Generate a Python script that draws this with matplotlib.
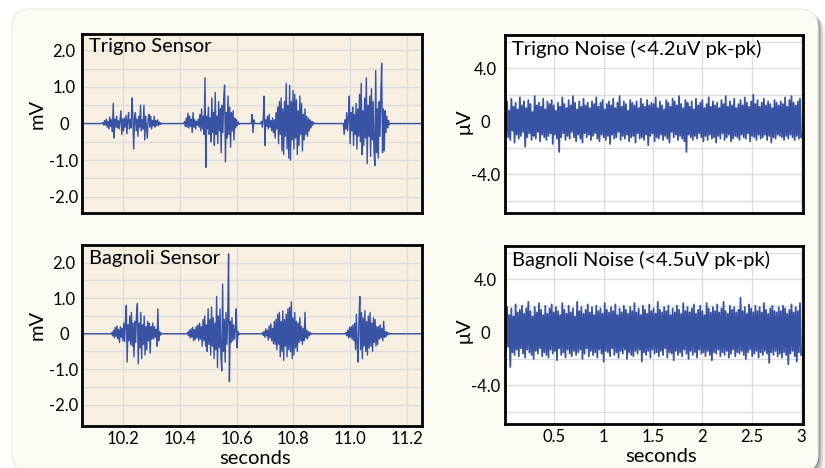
import numpy as np
import matplotlib.pyplot as plt
from matplotlib.patches import FancyBboxPatch
from matplotlib.transforms import IdentityTransform

plt.rcParams['font.family'] = ['Lato', 'DejaVu Sans']

# ---- EMG bursts (mV), sampled every 3 ms, flat baseline between bursts ----
dt = 0.003
t_window = (10.056, 11.253)

trigno_starts = [10.130, 10.417, 10.655, 10.688, 10.979]
trigno_bursts = [
    [0.03,-0.05,0.08,-0.04,0.12,-0.1,0.06,-0.15,0.18,-0.08,0.1,-0.22,0.55,-0.4,0.12,-0.1,0.2,-0.12,0.08,-0.15,
     0.1,0.35,-0.3,0.12,-0.2,0.15,-0.1,0.22,-0.28,0.1,0.3,-0.15,0.1,-0.12,0.7,0.2,-0.7,0.15,0.3,-0.2,
     0.12,-0.35,0.2,-0.1,0.5,-0.2,0.1,-0.15,0.5,-0.45,0.2,-0.1,-0.4,0.15,0.25,-0.1,0.2,-0.15,0.08,-0.06,
     0.2,-0.1,0.08,-0.05,0.1,-0.06,0.04,-0.03,0.02,-0.01],
    [0.05,-0.08,0.15,-0.1,0.28,-0.12,0.2,-0.08,0.12,-0.25,0.3,-0.1,0.1,-0.15,0.06,-0.05,0.12,-0.1,0.25,-0.2,
     0.4,-0.15,0.2,-0.3,1.25,-1.2,0.2,-0.15,0.45,-0.3,0.15,-0.5,0.7,-0.25,0.3,-0.6,0.85,-0.3,0.2,-0.55,
     0.6,-0.2,0.4,-0.8,0.5,-0.25,0.7,1.05,-1.05,0.3,-0.4,0.75,-0.3,0.45,-0.65,0.3,-0.2,0.35,-0.45,0.15,
     -0.12,0.1,-0.06,0.04,-0.02],
    [0.25,-0.25,0.1],
    [0.06,-0.1,0.12,0.75,-0.6,0.1,-0.08,0.2,-0.15,0.25,-0.1,0.08,-0.2,0.15,-0.25,0.1,-0.4,0.3,-0.15,0.45,
     -0.55,0.6,-0.3,0.7,-0.75,0.4,-0.85,0.6,-0.35,1.1,-0.7,0.5,-0.95,1.05,-1.0,0.6,-0.45,0.9,-0.7,0.8,
     -0.4,0.65,-0.85,0.35,-0.6,0.75,-0.3,0.55,-0.75,0.25,-0.45,0.4,-0.3,0.2,-0.35,0.15,-0.2,0.1,-0.12,0.06,
     -0.05,0.03],
    [-0.3,0.1,-0.15,0.3,-0.2,0.15,0.75,-0.55,0.3,-0.2,0.45,-0.6,0.25,-0.3,0.55,-0.7,0.4,-0.35,0.8,-0.5,
     1.1,-0.85,0.35,-0.6,0.7,-0.4,1.25,-1.1,0.5,-0.35,0.75,-0.9,0.95,-0.45,0.6,-0.7,-1.15,1.45,-0.8,0.4,
     -0.95,0.6,-0.35,0.8,1.65,-0.8,0.4,-0.75,0.35,-0.25,0.2,-0.12,0.08,-0.03],
]

bagnoli_starts = [10.161, 10.428, 10.691, 10.986]
bagnoli_bursts = [
    [0.03,-0.06,0.1,-0.12,0.18,-0.08,0.22,-0.15,0.12,-0.25,0.2,-0.1,0.15,-0.2,0.3,-0.22,0.35,0.8,-0.8,0.25,
     -0.2,0.5,-0.3,0.6,-0.35,0.3,-0.65,0.35,-0.25,0.55,0.85,-0.85,0.3,-0.4,0.6,-0.7,0.25,-0.3,0.5,-0.6,
     0.2,-0.45,0.35,-0.2,0.3,-0.55,0.2,-0.15,0.3,-0.15,0.2,-0.1,0.12,-0.35,0.7,-0.2,0.06,-0.04,0.02],
    [0.04,-0.06,0.1,-0.12,0.14,-0.1,0.18,-0.2,0.12,-0.16,0.2,-0.12,0.25,-0.2,0.3,-0.15,0.2,-0.35,0.4,-0.2,
     0.5,-0.35,0.25,-0.5,0.7,-0.3,0.4,-0.6,0.75,-0.35,0.45,-0.7,0.3,-0.45,1.05,-0.95,0.5,-0.4,0.7,-0.65,
     -1.05,1.4,-0.5,0.4,-0.8,0.6,-0.3,0.45,2.25,-1.35,0.35,-0.25,0.45,-0.2,0.25,-0.15,0.1,0.7,-0.4,0.06,-0.03],
    [0.03,-0.05,0.06,-0.1,0.14,-0.06,0.1,-0.18,0.22,-0.12,0.28,-0.2,0.15,-0.28,0.35,-0.3,0.4,-0.45,0.55,-0.3,
     0.6,-0.65,0.35,-0.5,0.65,-0.75,0.4,-0.35,0.55,-0.65,0.7,-0.45,0.75,-0.5,0.9,-0.7,0.45,-0.6,0.6,-0.4,
     0.35,-0.5,0.3,-0.25,0.45,-0.2,0.2,-0.3,0.15,-0.2,0.6,-0.12,0.1,-0.15,0.06,-0.06,0.03,-0.02,0.01],
    [0.03,-0.06,0.1,-0.12,0.18,-0.1,0.2,-0.15,0.25,-0.2,0.3,-0.45,0.55,-0.3,-0.8,0.35,1.05,-0.45,0.6,-0.7,
     0.45,-0.35,0.65,-0.5,0.35,-0.6,0.5,-0.4,0.6,-0.35,0.3,-0.5,0.45,-0.25,0.4,-0.35,0.2,-0.3,0.2,-0.15,
     0.25,-0.12,0.15,-0.2,0.35,-0.1,0.06,-0.08,0.05,-0.03,0.02,-0.01,0.01,0.0],
]

# ---- noise records (uV) over 3 s ----
trigno_noise = [
    1.3,-0.9,1.5,-1.2,0.8,-1.4,1.7,-0.7,1.1,-1.6,1.4,-1.0,0.9,-1.3,1.8,-1.1,1.2,-0.8,1.5,-1.9,
    1.0,-1.2,1.6,-0.9,1.3,-1.4,0.7,-1.1,1.9,-1.3,1.2,-0.8,1.4,-1.5,1.1,-1.0,1.7,-1.2,0.9,-1.4,
    1.5,-1.1,1.3,-0.9,1.6,-1.7,1.2,-1.0,0.8,-1.3,1.4,-2.3,1.1,-1.2,1.8,-0.9,1.3,-1.4,1.0,-1.1,
    1.6,-1.3,1.2,-0.8,1.9,-1.2,1.4,-1.5,0.9,-1.0,1.5,-1.3,1.1,-1.6,1.7,-0.9,1.2,-1.2,1.4,-1.0,
    1.0,-1.4,1.5,-1.1,1.3,-0.9,1.8,-1.3,1.1,-1.5,1.4,-1.0,1.6,-1.2,0.9,-1.4,1.3,-1.1,1.5,-1.7,
    1.2,-1.0,1.7,-1.3,1.0,-1.2,1.4,-0.8,1.9,-1.4,1.1,-1.1,1.5,-1.3,1.3,-1.0,0.8,-1.5,1.6,-1.2,
    1.4,-1.1,1.2,-1.6,1.5,-0.9,1.0,-1.3,1.7,-1.2,1.3,-1.4,1.1,-1.0,1.6,-1.8,1.2,-1.1,1.4,-0.9,
    1.3,-1.5,1.8,-1.2,1.0,-1.3,1.5,-1.0,1.2,-1.4,0.9,-1.1,1.6,-1.3,1.4,-1.6,1.1,-0.8,1.7,-1.2,
    1.5,-1.0,1.2,-1.4,1.9,-1.1,1.3,-1.3,1.0,-1.5,1.6,-2.3,1.4,-1.0,1.1,-1.2,1.5,-1.4,0.9,-1.1,
    1.7,-1.3,1.2,-0.9,1.4,-1.2,1.6,-1.5,1.0,-1.1,1.3,-1.4,1.8,-1.0,1.1,-1.3,1.5,-1.2,1.2,-1.6,
    1.4,-1.1,1.0,-1.3,1.6,-0.9,1.3,-1.4,1.9,-1.2,1.1,-1.0,1.5,-1.5,1.2,-1.3,1.7,-1.1,1.0,-1.2,
    1.3,-1.4,1.6,-1.0,1.2,-1.2,1.8,-1.3,1.4,-0.9,1.1,-1.5,1.5,-1.1,2.0,-1.2,1.3,-1.4,1.6,-1.0,
    1.1,-1.3,1.4,-1.2,1.7,-1.0,1.2,-1.4,1.5,-1.1,1.3,-1.6,1.0,-1.2,1.6,-1.3,1.4,-1.0,1.2,-1.1,
    1.5,-1.2,1.3,-1.4,1.8,-1.1,1.1,-1.3,1.6,-1.0,1.9,-1.2,1.4,-1.4,1.2,-1.1,1.5,-1.3,1.7,-1.2,
]
bagnoli_noise = [
    1.6,-1.4,1.9,-1.1,1.3,-2.6,1.8,-1.5,1.2,-1.7,2.1,-1.3,1.5,-1.8,1.7,-1.2,2.0,-1.6,1.4,-1.9,
    1.8,-1.3,2.3,-1.5,1.6,-1.7,1.2,-2.0,1.9,-1.4,1.5,-1.6,2.2,-1.2,1.7,-1.8,1.3,-1.5,2.0,-1.7,
    1.4,-1.9,1.8,-1.3,2.1,-1.6,1.5,-1.4,1.9,-2.1,1.6,-1.2,1.3,-1.7,2.2,-1.5,1.7,-1.9,1.4,-1.3,
    2.0,-1.6,1.5,-1.8,1.8,-1.4,1.2,-1.7,2.3,-1.5,1.6,-1.3,1.9,-2.0,1.4,-1.6,1.7,-1.2,2.1,-1.8,
    1.5,-1.4,1.9,-1.7,1.3,-1.5,2.0,-1.9,1.6,-1.3,1.8,-1.6,1.4,-2.2,2.2,-1.4,1.7,-1.5,1.5,-1.8,
    1.9,-1.2,1.6,-1.7,2.1,-1.5,1.3,-1.9,1.8,-1.4,1.5,-1.6,2.0,-1.3,1.7,-2.0,1.4,-1.5,1.9,-1.7,
    1.6,-1.8,2.2,-1.4,1.5,-1.6,1.8,-1.3,1.3,-2.2,2.0,-1.5,1.7,-1.7,1.4,-1.4,2.1,-1.9,1.6,-1.3,
    1.8,-1.6,1.4,-1.5,2.3,-1.8,1.7,-1.4,1.5,-1.7,1.9,-1.2,1.6,-1.9,2.0,-1.5,1.3,-1.6,1.8,-2.1,
    1.5,-1.4,2.0,-1.7,1.7,-1.5,1.4,-1.8,2.2,-1.3,1.6,-1.6,1.9,-2.0,1.5,-1.4,1.8,-1.7,2.1,-1.5,
    1.4,-1.9,1.7,-1.3,2.0,-1.6,1.6,-1.5,1.3,-1.8,2.2,-1.4,1.8,-1.7,1.5,-2.1,1.9,-1.5,1.6,-1.6,
    2.1,-1.3,1.5,-1.8,1.8,-1.5,2.3,-1.7,1.6,-1.4,1.4,-1.9,2.0,-1.6,1.7,-1.3,1.9,-1.8,1.5,-1.5,
    1.7,-1.6,2.6,-1.4,1.6,-1.7,1.9,-2.0,1.4,-1.5,2.1,-1.3,1.8,-1.8,1.5,-1.6,2.0,-1.4,1.6,-1.9,
    1.9,-1.5,1.5,-1.7,2.2,-1.4,1.7,-1.6,1.4,-2.3,1.8,-1.5,2.0,-1.7,1.6,-1.4,1.5,-1.8,1.9,-1.6,
    1.6,-1.9,2.0,-1.5,1.8,-1.7,1.4,-2.4,1.7,-1.6,2.1,-1.4,1.5,-1.8,1.9,-2.2,1.6,-1.5,2.2,-1.7,
]
noise_duration = 3.0

emg_xticks = [10.2, 10.4, 10.6, 10.8, 11.0, 11.2]
emg_yticks = [2.0, 1.0, 0, -1.0, -2.0]
emg_ylabels = ['2.0', '1.0', '0', '-1.0', '-2.0']
noise_xticks = [0.5, 1, 1.5, 2, 2.5, 3]
noise_xlabels = ['0.5', '1', '1.5', '2', '2.5', '3']
noise_yticks = [4.0, 0, -4.0]
noise_ylabels = ['4.0', '0', '-4.0']

LINE = '#3953a4'
GRID = '#dddddd'


def emg_trace(starts, bursts):
    # zero baseline before and after every burst
    ts, vs = [t_window[0]], [0.0]
    for t0, b in zip(starts, bursts):
        ts += [t0 - dt] + list(t0 + dt * np.arange(len(b))) + [t0 + dt * len(b)]
        vs += [0.0] + b + [0.0]
    ts.append(t_window[1]); vs.append(0.0)
    return np.array(ts), np.array(vs)


W, H = 825, 468
fig = plt.figure(figsize=(W / 100, H / 100), dpi=100)
fig.patch.set_facecolor('white')

# card + shadow (display pixels)
for off, a in [(7, 0.08), (5, 0.16), (3, 0.28), (1.5, 0.35)]:
    fig.patches.append(FancyBboxPatch((12 + off, -4 - off), 806, 463,
                                      boxstyle='round,pad=0,rounding_size=18',
                                      transform=IdentityTransform(), fc='#555555',
                                      ec='none', alpha=a, zorder=-3))
fig.patches.append(FancyBboxPatch((12, -4), 806, 463, boxstyle='round,pad=0,rounding_size=18',
                                  transform=IdentityTransform(), fc='#fbfbf3',
                                  ec='#ebebe6', lw=0.8, zorder=-2))


def make_ax(px):
    x0, y0, x1, y1 = px
    return fig.add_axes([x0 / W, 1 - y1 / H, (x1 - x0) / W, (y1 - y0) / H])


def style(ax, bg):
    ax.set_facecolor(bg)
    for s in ax.spines.values():
        s.set_linewidth(2.0)
        s.set_color('black')
    ax.tick_params(which='both', length=0, labelsize=12)
    ax.grid(True, which='both', color=GRID, lw=1.0)
    ax.set_axisbelow(True)


ax_tl = make_ax((82, 34, 422, 213))
ax_bl = make_ax((82, 245, 422, 426))
ax_tr = make_ax((505, 35, 803, 213))
ax_br = make_ax((505, 246, 803, 424))

for ax, starts, bursts, title in [(ax_tl, trigno_starts, trigno_bursts, 'Trigno Sensor'),
                                  (ax_bl, bagnoli_starts, bagnoli_bursts, 'Bagnoli Sensor')]:
    style(ax, '#f7efe1')
    t, v = emg_trace(starts, bursts)
    ax.plot(t, v, color=LINE, lw=1.0)
    ax.set_xlim(*t_window)
    ax.set_ylim(-2.45, 2.45)
    ax.set_xticks(emg_xticks)
    ax.set_yticks(emg_yticks, emg_ylabels)
    ax.set_yticks(np.arange(-2.0, 2.01, 0.5), minor=True)
    for lab in ax.get_yticklabels():
        lab.set_ha('center')
    ax.tick_params(axis='y', pad=13)
    ax.text(0.022, 0.975, title, transform=ax.transAxes, ha='left', va='top', fontsize=14.5)

ax_tl.set_xticklabels([])
ax_bl.set_xticks(emg_xticks, [f'{x:.1f}' for x in emg_xticks])
ax_bl.set_ylim(-2.6, 2.5)

for ax, noise, title in [(ax_tr, trigno_noise, 'Trigno Noise (<4.2uV pk-pk)'),
                         (ax_br, bagnoli_noise, 'Bagnoli Noise (<4.5uV pk-pk)')]:
    style(ax, 'white')
    tn = np.linspace(0, noise_duration, len(noise))
    ax.plot(tn, noise, color=LINE, lw=1.3)
    ax.set_xlim(0.0, 3.02)
    ax.set_ylim(-6.9, 6.5)
    ax.set_xticks(noise_xticks)
    ax.set_yticks(noise_yticks, noise_ylabels)
    ax.set_yticks([-6, -2, 2, 6], minor=True)
    for lab in ax.get_yticklabels():
        lab.set_ha('center')
    ax.tick_params(axis='y', pad=14)
    ax.text(0.025, 0.975, title, transform=ax.transAxes, ha='left', va='top', fontsize=14.5)

ax_tr.set_xticklabels([])
ax_br.set_xticks(noise_xticks, noise_xlabels)

fig.text(37 / W, 1 - 114 / H, 'mV', rotation=90, ha='center', va='center', fontsize=14.5)
fig.text(37 / W, 1 - 325 / H, 'mV', rotation=90, ha='center', va='center', fontsize=14.5)
fig.text(464 / W, 1 - 121 / H, 'μV', rotation=90, ha='center', va='center', fontsize=14.5)
fig.text(464 / W, 1 - 330 / H, 'μV', rotation=90, ha='center', va='center', fontsize=14.5)
fig.text(255 / W, 1 - 458 / H, 'seconds', ha='center', va='center', fontsize=14.5)
fig.text(661 / W, 1 - 457 / H, 'seconds', ha='center', va='center', fontsize=14.5)

fig.savefig('out.png', dpi=100)
